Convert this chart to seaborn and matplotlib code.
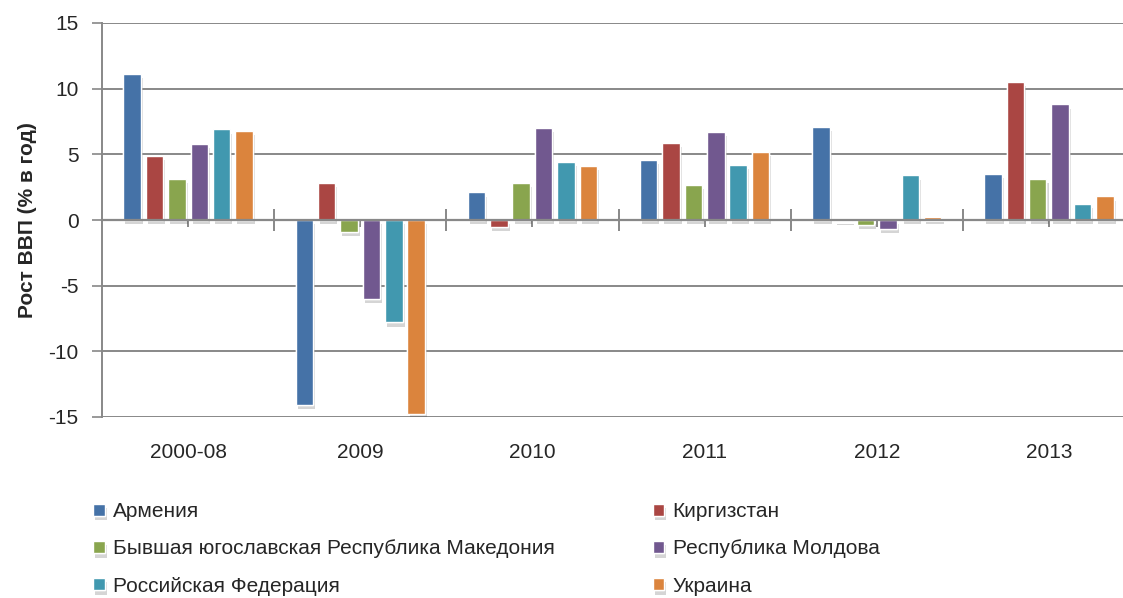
import numpy as np
import pandas as pd
import matplotlib
matplotlib.use("Agg")
import matplotlib.pyplot as plt
import matplotlib.patheffects as pe
import seaborn as sns

periods = ["2000-08", "2009", "2010", "2011", "2012", "2013"]
countries = ["Армения", "Киргизстан", "Бывшая югославская Республика Македония",
             "Республика Молдова", "Российская Федерация", "Украина"]
armenia = [11.1, -14.1, 2.1, 4.6, 7.1, 3.5]
kyrgyz = [4.9, 2.8, -0.5, 5.9, -0.1, 10.5]
macedonia = [3.1, -0.9, 2.8, 2.7, -0.4, 3.1]
moldova = [5.8, -6.0, 7.0, 6.7, -0.7, 8.8]
russia = [6.9, -7.8, 4.4, 4.2, 3.4, 1.2]
ukraine = [6.8, -14.8, 4.1, 5.2, 0.2, 1.8]
series = [armenia, kyrgyz, macedonia, moldova, russia, ukraine]
colors = ["#4572A7", "#AA4643", "#89A54E", "#71588F", "#4198AF", "#DB843D"]
yticks = [-15, -10, -5, 0, 5, 10, 15]
ylabel = "Рост ВВП (% в год)"

rows = []
for c, vals in zip(countries, series):
    for p, v in zip(periods, vals):
        rows.append({"period": p, "country": c, "value": v})
df = pd.DataFrame(rows)

sns.set_theme(style="white")
plt.rcParams["font.family"] = ["Liberation Sans", "DejaVu Sans"]

fig = plt.figure(figsize=(11.23, 5.98), dpi=100)
W, H = 1123, 598
ax = fig.add_axes([102 / W, 1 - 417 / H, (1135 - 102) / W, (417 - 23) / H])

sns.barplot(data=df, x="period", y="value", hue="country", order=periods,
            hue_order=countries, palette=colors, saturation=1, width=0.78, gap=0.22,
            edgecolor="white", linewidth=1.0, ax=ax, legend=True)

for patch in ax.patches:
    patch.set_path_effects([pe.withSimplePatchShadow(offset=(1.5, -3), alpha=0.22,
                                                     shadow_rgbFace="#444444"),
                            pe.Normal()])

grid_c = "#888888"
ax.set_ylim(-15, 15)
ax.set_xlim(-0.5, len(periods) - 0.5)
ax.set_yticks(yticks)
ax.set_yticklabels([str(t) for t in yticks], fontsize=15)
ax.yaxis.grid(True, color=grid_c, linewidth=1.4)
ax.set_axisbelow(True)
for s in ["top", "right"]:
    ax.spines[s].set_visible(False)
ax.spines["left"].set_color(grid_c)
ax.spines["left"].set_linewidth(1.4)
ax.spines["bottom"].set_position(("data", 0))
ax.spines["bottom"].set_color(grid_c)
ax.spines["bottom"].set_linewidth(1.6)
ax.tick_params(axis="y", direction="out", length=7, width=1.2, color=grid_c, pad=10,
               left=True)

bounds = np.arange(len(periods) + 1) - 0.5
ax.set_xticks(bounds[1:])
ax.set_xticklabels([])
ax.set_xticks(np.arange(len(periods)), minor=True)
ax.tick_params(axis="x", which="major", direction="inout", length=16, width=1.4,
               color=grid_c, bottom=True)
ax.tick_params(axis="x", which="minor", direction="out", length=5, width=1.4,
               color=grid_c, bottom=True)
ax.set_xlabel("")
ax.set_ylabel(ylabel, fontsize=15, fontweight="bold", labelpad=8)

sec = ax.secondary_xaxis(0)
sec.set_xticks(np.arange(len(periods)))
sec.set_xticklabels(periods, fontsize=15)
sec.tick_params(length=0, pad=19)
sec.spines["bottom"].set_visible(False)

handles, labels = ax.get_legend_handles_labels()
ax.legend_.remove()
order = [0, 2, 4, 1, 3, 5]
fig.legend([handles[i] for i in order], [labels[i] for i in order], ncol=2,
           loc="upper left", bbox_to_anchor=(85 / W, 1 - 494 / H), frameon=False,
           fontsize=15, handlelength=0.55, handleheight=0.55, handletextpad=0.4,
           columnspacing=4.7, labelspacing=0.87, borderaxespad=0)

fig.savefig("out.png", dpi=100)
